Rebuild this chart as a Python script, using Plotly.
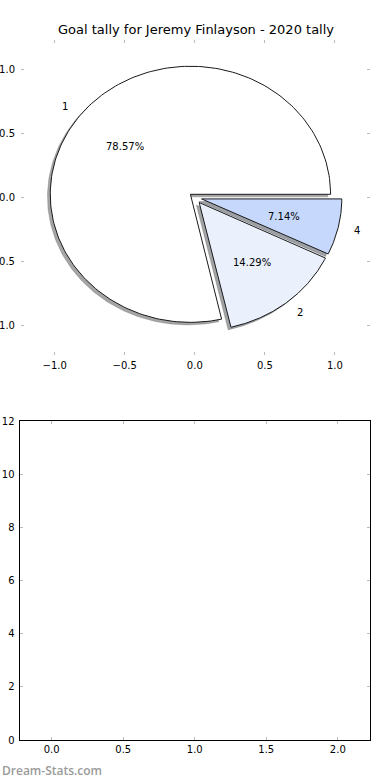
import numpy as np
import plotly.graph_objects as go
from plotly.subplots import make_subplots

# ---- data ----
labels = ["1", "2", "4"]
counts = [11, 2, 1]
slice_colors = ["#ffffff", "#eaf1fd", "#c6d9fd"]
explode = [0.04, 0.05, 0.05]
title_text = "Goal tally for Jeremy Finlayson - 2020 tally"
pie_ticks = [-1.0, -0.5, 0.0, 0.5, 1.0]
bottom_xticks = [0.0, 0.5, 1.0, 1.5, 2.0]
bottom_yticks = [0, 2, 4, 6, 8, 10, 12]
watermark = "Dream-Stats.com"

W, H = 390, 780
FONT = "DejaVu Sans"

fig = make_subplots(rows=2, cols=1)

total = float(sum(counts))
fracs = [c / total for c in counts]
starts = np.concatenate([[0.0], np.cumsum(fracs)[:-1]]) * 2 * np.pi
ends = np.cumsum(fracs) * 2 * np.pi


def wedge(cx, cy, a0, a1, r=1.0):
    th = np.linspace(a0, a1, 200)
    xs = np.concatenate([[cx], cx + r * np.cos(th), [cx]])
    ys = np.concatenate([[cy], cy + r * np.sin(th), [cy]])
    return xs, ys


centers = []
for i in range(len(counts)):
    mid = (starts[i] + ends[i]) / 2
    cx = explode[i] * np.cos(mid)
    cy = explode[i] * np.sin(mid)
    centers.append((cx, cy, mid))

# shadows first
for i in range(len(counts)):
    cx, cy, mid = centers[i]
    xs, ys = wedge(cx - 0.02, cy - 0.02, starts[i], ends[i])
    col = slice_colors[i].lstrip("#")
    r, g, b = [int(col[k:k + 2], 16) * 0.3 for k in (0, 2, 4)]
    rgba = f"rgba({r:.0f},{g:.0f},{b:.0f},0.5)"
    fig.add_trace(go.Scatter(x=xs, y=ys, mode="lines", fill="toself",
                             fillcolor=rgba, line=dict(width=0.5, color=rgba),
                             hoverinfo="skip", showlegend=False), row=1, col=1)

# wedges
for i in range(len(counts)):
    cx, cy, mid = centers[i]
    xs, ys = wedge(cx, cy, starts[i], ends[i])
    fig.add_trace(go.Scatter(x=xs, y=ys, mode="lines", fill="toself",
                             fillcolor=slice_colors[i],
                             line=dict(width=1, color="#1a1a1a"),
                             name=labels[i], showlegend=False), row=1, col=1)

# empty trace so the lower axes are drawn
fig.add_trace(go.Scatter(x=[None], y=[None], mode="markers", showlegend=False,
                         hoverinfo="skip"), row=2, col=1)

# labels and percentages
for i in range(len(counts)):
    cx, cy, mid = centers[i]
    lx = cx + 1.1 * np.cos(mid)
    ly = cy + 1.1 * np.sin(mid)
    fig.add_annotation(x=lx, y=ly, xref="x", yref="y", text=labels[i],
                       showarrow=False, xanchor="left" if lx > 0 else "right",
                       yanchor="middle", font=dict(family=FONT, size=10, color="#000"))
    px = cx + 0.6 * np.cos(mid)
    py = cy + 0.6 * np.sin(mid)
    fig.add_annotation(x=px, y=py, xref="x", yref="y",
                       text=f"{fracs[i] * 100:.2f}%", showarrow=False,
                       xanchor="center", yanchor="middle",
                       font=dict(family=FONT, size=10, color="#000"))

tick_style = dict(ticks="inside", ticklen=3, tickwidth=1, tickcolor="#bbbbbb",
                  showgrid=False, zeroline=False, automargin=False,
                  tickfont=dict(family=FONT, size=10, color="#000"))

fig.update_xaxes(range=[-1.24, 1.25], tickvals=pie_ticks,
                 ticktext=[f"{v:.1f}".replace("-", "\u2212") for v in pie_ticks],
                 showline=False, mirror="ticks", ticklabelstandoff=3,
                 domain=[21 / W, 370 / W], row=1, col=1, **tick_style)
fig.update_yaxes(range=[-1.23, 1.23], tickvals=pie_ticks,
                 ticktext=[f"{v:.1f}".replace("-", "\u2212") for v in pie_ticks],
                 showline=False, mirror="ticks", ticklabelstandoff=5,
                 domain=[1 - 355 / H, 1 - 40 / H], row=1, col=1, **tick_style)

fig.update_xaxes(range=[-0.225, 2.225], tickvals=bottom_xticks,
                 ticktext=[f"{v:.1f}" for v in bottom_xticks],
                 showline=True, linecolor="#000", linewidth=1, mirror="ticks",
                 domain=[19.5 / W, 370 / W], row=2, col=1, **tick_style)
fig.update_yaxes(range=[0, 12], tickvals=bottom_yticks,
                 ticktext=[str(v) for v in bottom_yticks],
                 showline=True, linecolor="#000", linewidth=1, mirror="ticks",
                 ticklabelstandoff=2,
                 domain=[1 - 740 / H, 1 - 421 / H], row=2, col=1, **tick_style)

fig.add_annotation(text=title_text, xref="paper", yref="paper",
                   x=(21 + 370) / 2 / W, y=1 - 30 / H, showarrow=False,
                   xanchor="center", yanchor="middle",
                   font=dict(family=FONT, size=13, color="#000"))

fig.add_annotation(text=watermark, xref="paper", yref="paper",
                   x=0, y=1 - 770 / H, showarrow=False,
                   xanchor="left", yanchor="middle",
                   font=dict(family="Open Sans", size=12, color="#9a9a9a", weight=600))

fig.update_layout(width=W, height=H, margin=dict(l=0, r=0, t=0, b=0),
                  paper_bgcolor="white", plot_bgcolor="white",
                  showlegend=False)

fig.write_html("out.html", config={"displayModeBar": False},
               post_script="document.body.style.margin='0';document.body.style.overflow='hidden';")
